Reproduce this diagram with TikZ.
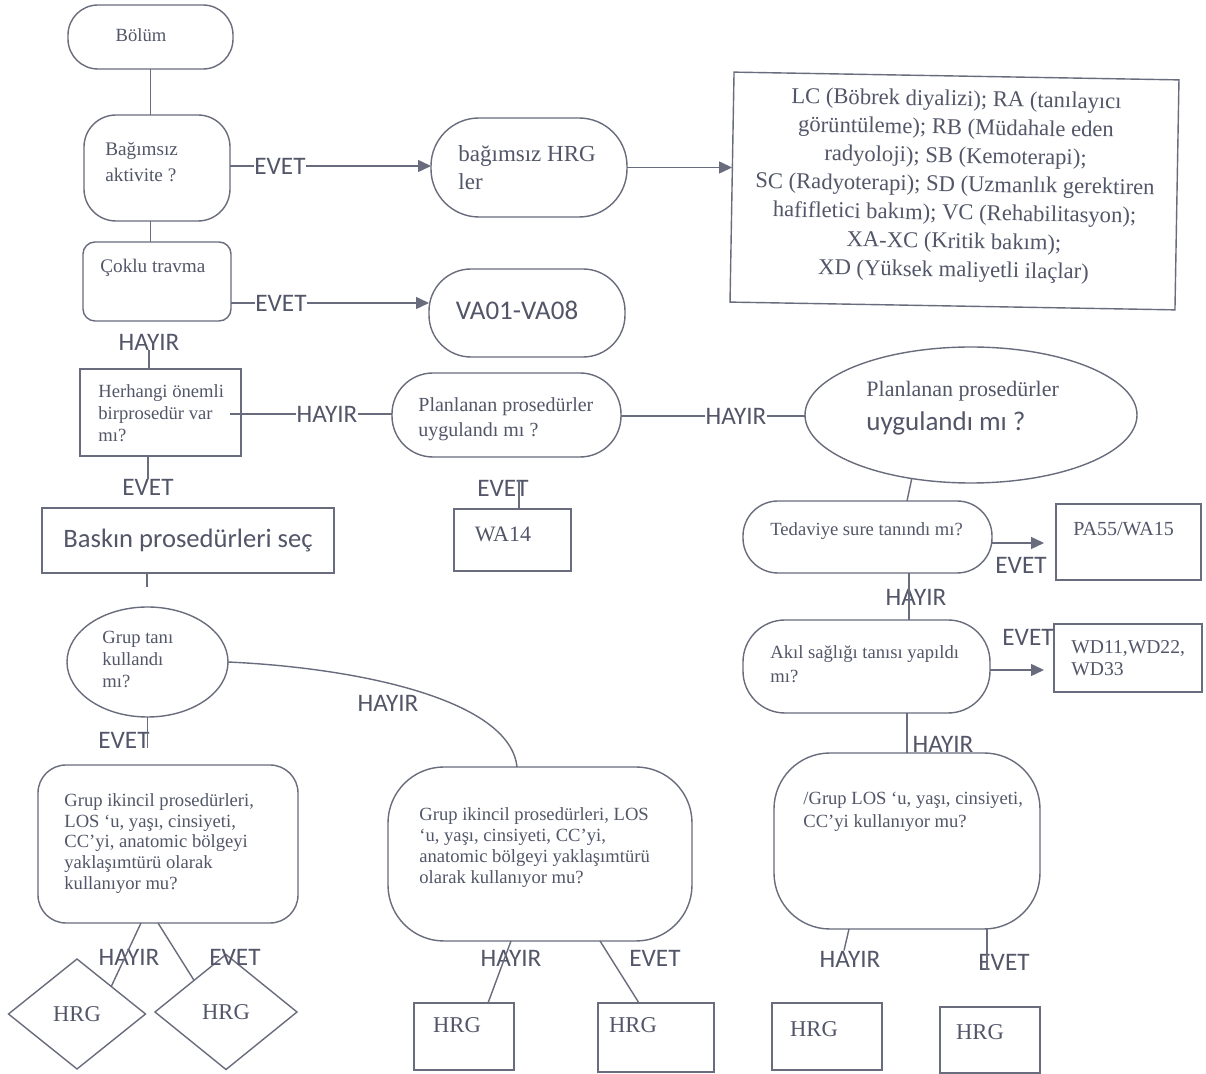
\documentclass[tikz,border=0pt]{standalone}
\usepackage{fontspec}
\setmainfont{Liberation Serif}
\setsansfont{Carlito}
\usetikzlibrary{shapes.geometric,arrows.meta,calc}
\definecolor{tc}{RGB}{82,86,104}
\definecolor{lc}{RGB}{104,108,124}

\tikzset{
  fig/.style={draw=lc,line width=0.7pt,inner sep=0pt,outer sep=0pt},
  wh/.style args={#1/#2}{minimum width=#1*0.5pt,minimum height=#2*0.5pt},
  conn/.style={draw=lc,line width=0.7pt},
  arr/.style={conn,-{Triangle[length=6.5pt,width=6pt]}},
  lab/.style={font=\sffamily\fontsize{12.6}{14}\selectfont,text=tc,inner sep=0pt},
  txt/.style={font=\fontsize{9.3}{11}\selectfont,text=tc,inner sep=0pt,align=left,anchor=north west},
  one/.style={font=\fontsize{9.3}{11}\selectfont,text=tc,inner sep=0pt,anchor=west},
  hrgt/.style={font=\fontsize{11.3}{13}\selectfont,text=tc,inner sep=0pt},
}

\begin{document}
\begin{tikzpicture}[x=0.5pt,y=-0.5pt]
% page
\fill[white] (0,0) rectangle (1206,1074);
\useasboundingbox (0,0) rectangle (1206,1074);

% ---------- shapes ----------
\node[fig,rectangle,rounded corners=15pt,wh={165/64}] (bolum) at (150.5,37) {};
\node[fig,rectangle,rounded corners=16pt,wh={146/106}] (bag) at (157,168) {};
\node[fig,rectangle,rounded corners=6pt,wh={148/79}] (coklu) at (157,281.5) {};
\node[fig,rectangle,rounded corners=24pt,wh={196/99}] (hrgb) at (529,167.5) {};
\node[fig,rectangle,rounded corners=21pt,wh={196/88}] (va) at (527,313) {};
\node[fig,rectangle,wh={445/230},rotate=-1] (lc) at (954.5,191) {};
\node[rotate=-1,align=center,inner sep=0pt,
      font=\fontsize{11.3}{14.25}\selectfont,text=tc] (tLc) at (955,186)
  {LC (Böbrek diyalizi); RA (tanılayıcı\\görüntüleme); RB (Müdahale eden\\radyoloji); SB (Kemoterapi);\\SC (Radyoterapi); SD (Uzmanlık gerektiren\\hafifletici bakım); VC (Rehabilitasyon);\\XA-XC (Kritik bakım);\\XD (Yüksek maliyetli ilaçlar)};
\node[fig,rectangle,wh={161/87}] (herh) at (160.5,412.5) {};
\node[fig,rectangle,rounded corners=20.5pt,wh={229/84}] (planA) at (506.5,415) {};
\node[fig,ellipse,wh={332/136}] (planB) at (971,415) {};
\node[fig,rectangle,wh={292/65},font=\sffamily\fontsize{13.3}{15}\selectfont,text=tc] (baskin) at (188,540.5) {Baskın prosedürleri seç};
\node[fig,rectangle,wh={117/62}] (wa14) at (512.5,540) {};
\node[fig,ellipse,wh={161/110}] (grupT) at (147.5,662) {};
\node[fig,rectangle,rounded corners=14pt,wh={260/158}] (gL) at (168,844) {};
\node[fig,rectangle,rounded corners=28pt,wh={304/174}] (gM) at (540,854) {};
\node[fig,rectangle,rounded corners=17.5pt,wh={249/72}] (ted) at (867.5,537) {};
\node[fig,rectangle,wh={145/76}] (pa) at (1128.5,542) {};
\node[fig,rectangle,rounded corners=21pt,wh={247/93}] (akil) at (866.5,666.5) {};
\node[fig,rectangle,wh={148/68}] (wd) at (1128,658) {};
\node[fig,rectangle,rounded corners=28pt,wh={266/176}] (gR) at (907,841) {};
\node[fig,diamond,wh={137/110},hrgt] (dL) at (77,1014) {HRG};
\node[fig,diamond,wh={142/115},hrgt] (dR) at (226,1012) {HRG};
\node[fig,rectangle,wh={100/67}] (h1) at (464,1036.5) {};
\node[fig,rectangle,wh={116/69}] (h2) at (656,1037.5) {};
\node[fig,rectangle,wh={110/67}] (h3) at (827,1036.5) {};
\node[fig,rectangle,wh={100/66}] (h4) at (990,1040) {};

% ---------- texts in shapes ----------
\node[one,anchor=center] (tBolum) at (141,35) {Bölüm};
\node[txt,font=\fontsize{9.6}{13}\selectfont] (tBag) at (105,142) {Bağımsız\\aktivite ?};
\node[one,font=\fontsize{9.6}{11}\selectfont] (tCoklu) at (100,268) {Çoklu travma};
\node[txt,font=\fontsize{11.5}{14}\selectfont] (tHrgb) at (458,145) {bağımsız HRG\\ler};
\node[lab,font=\sffamily\fontsize{13.5}{15}\selectfont] (tVa) at (517,310) {VA01-VA08};
\node[txt] (tHerh) at (98,384) {Herhangi önemli\\birprosedür var\\mı?};
\node[txt,font=\fontsize{10}{12.5}\selectfont] (tPlanA) at (418,397) {Planlanan prosedürler\\uygulandı mı ?};
\node[one,font=\fontsize{11}{13}\selectfont] (tPlanB1) at (866,391) {Planlanan prosedürler};
\node[one,font=\sffamily\fontsize{13.5}{15}\selectfont] (tPlanB2) at (866,423) {uygulandı mı ?};
\node[hrgt,font=\fontsize{11}{13}\selectfont] (tWa) at (503,534) {WA14};
\node[txt] (tGrupT) at (102,631) {Grup tanı\\kullandı\\mı?};
\node[txt,font=\fontsize{9.3}{10.4}\selectfont] (tGL) at (64,793)
  {Grup ikincil prosedürleri,\\LOS ‘u, yaşı, cinsiyeti,\\CC’yi, anatomic bölgeyi\\yaklaşımtürü olarak\\kullanıyor mu?};
\node[txt,font=\fontsize{9.3}{10.6}\selectfont] (tGM) at (419,807)
  {Grup ikincil prosedürleri, LOS\\‘u, yaşı, cinsiyeti, CC’yi,\\anatomic bölgeyi yaklaşımtürü\\olarak kullanıyor mu?};
\node[one] (tTed) at (770,531) {Tedaviye sure tanındı mı?};
\node[one,font=\fontsize{10}{12}\selectfont] (tPa) at (1073,529) {PA55/WA15};
\node[txt,font=\fontsize{9.3}{12}\selectfont] (tAkil) at (770,645) {Akıl sağlığı tanısı yapıldı\\mı?};
\node[txt,font=\fontsize{9.8}{11}\selectfont] (tWd) at (1071,640) {WD11,WD22,\\WD33};
\node[txt,font=\fontsize{9.3}{11.5}\selectfont] (tGR) at (803,792) {/Grup LOS ‘u, yaşı, cinsiyeti,\\CC’yi kullanıyor mu?};
\node[hrgt] (tH1) at (457,1025) {HRG};
\node[hrgt] (tH2) at (633,1025) {HRG};
\node[hrgt] (tH3) at (814,1029) {HRG};
\node[hrgt] (tH4) at (980,1032) {HRG};

% ---------- branch labels ----------
\node[lab] (e1) at (280,166) {EVET};
\node[lab] (e2) at (281,303) {EVET};
\node[lab] (hy1) at (149,342) {HAYIR};
\node[lab] (hy2) at (327,414) {HAYIR};
\node[lab] (hy3) at (736,416) {HAYIR};
\node[lab] (e3) at (148,487) {EVET};
\node[lab] (e4) at (503,488) {EVET};
\node[lab] (e5) at (1021,565) {EVET};
\node[lab] (hy4) at (916,597) {HAYIR};
\node[lab] (e6) at (1028,637) {EVET};
\node[lab] (hy5) at (943,744) {HAYIR};
\node[lab] (e7) at (124,740) {EVET};
\node[lab] (hy6) at (388,703) {HAYIR};
\node[lab] (hy7) at (129,957) {HAYIR};
\node[lab] (e8) at (235,957) {EVET};
\node[lab] (hy8) at (511,958) {HAYIR};
\node[lab] (e9) at (655,958) {EVET};
\node[lab] (hy9) at (850,959) {HAYIR};
\node[lab] (e10) at (1004,962) {EVET};

% ---------- helper points ----------
\coordinate (stub) at (147,587);
\coordinate (hz) at ([xshift=-5.5pt]herh.east);
\coordinate (e4a) at ([xshift=8pt]e4.north);
\coordinate (tedN) at ([xshift=19.75pt]ted.north);
\coordinate (tedS) at ([xshift=20.75pt]ted.south);
\coordinate (tedE) at ([yshift=-3pt]ted.east);
\coordinate (akE) at ([yshift=-1.75pt]akil.east);
\coordinate (akS) at ([xshift=20.25pt]akil.south);
\coordinate (gLa) at ([xshift=-13.5pt]gL.south);
\coordinate (gLb) at ([xshift=-5pt]gL.south);
\coordinate (gMa) at ([xshift=-14.5pt]gM.south);
\coordinate (gMb) at ([xshift=30pt]gM.south);
\coordinate (gMt) at ([xshift=-11.5pt]gM.north);
\coordinate (h1t) at ([xshift=12pt]h1.north);
\coordinate (h2t) at ([xshift=-8.5pt]h2.north);
\coordinate (gRa) at ([xshift=-29pt]gR.south);
\coordinate (gRb) at ([xshift=40pt]gR.south);
\coordinate (hy9t) at ([xshift=-3pt]hy9.north);

% ---------- connectors ----------
\draw[conn] (bolum.south) -- (bolum.south |- bag.north);
\draw[conn] (bolum.south |- bag.south) -- (bolum.south |- coklu.north);
\draw[conn] (bag.east |- e1.west) -- (e1.west);
\draw[arr] (e1.east) -- (hrgb.west |- e1.east);
\draw[arr] (hrgb.east) -- (hrgb.east -| lc.west);
\draw[conn] (coklu.east |- e2.west) -- (e2.west);
\draw[arr] (e2.east) -- (va.west |- e2.east);
\draw[conn] (hy1.south) -- (hy1.south |- herh.north);
\draw[conn] (hz |- hy2.west) -- (hy2.west);
\draw[conn] (hy2.east) -- (planA.west |- hy2.east);
\draw[conn] (planA.east |- hy3.west) -- (hy3.west);
\draw[conn] (hy3.east) -- (planB.west |- hy3.east);
\draw[conn] (herh.south -| e3.north) -- (e3.north);
\draw[conn] (e4a) -- (e4a |- wa14.north);
\draw[conn] (stub |- baskin.south) -- (stub);
\draw[conn] (grupT.south) -- (grupT.south |- e7.south);
\draw[conn] (grupT.east) .. controls (360,668) and (510,700) .. (gMt);
\draw[conn] (gLa) -- ($(dL.north)!0.5!(dL.east)$);
\draw[conn] (gLb) -- ($(dR.north)!0.45!(dR.west)$);
\draw[conn] (gMa) -- (h1t);
\draw[conn] (gMb) -- (h2t);
\draw[conn] (planB.227) -- (tedN);
\draw[arr,shorten >=6pt] (tedE) -- (tedE -| pa.west);
\draw[conn] (tedS) -- (tedS |- akil.north);
\draw[arr,shorten >=5pt] (akE) -- (akE -| wd.west);
\draw[conn] (akS) -- (akS |- gR.north);
\draw[conn] (gRa) -- (hy9t);
\draw[conn] (gRb) -- (gRb |- e10.south);
\end{tikzpicture}
\end{document}
